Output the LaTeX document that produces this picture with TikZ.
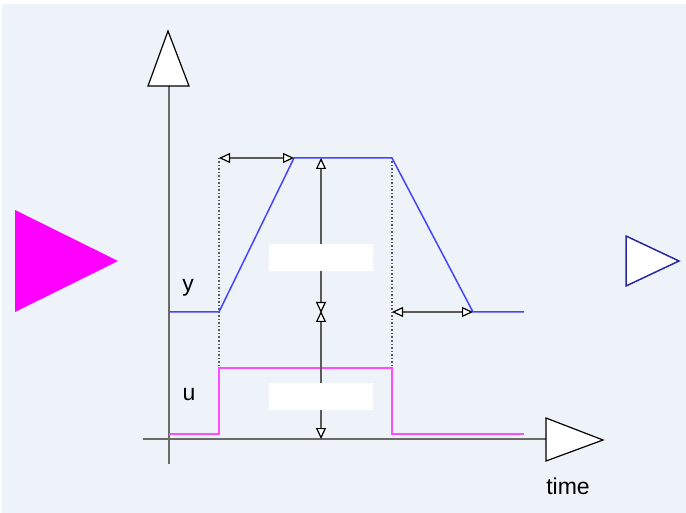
\documentclass[tikz,border=0pt]{standalone}
\usepackage{fontspec}
\setmainfont{Liberation Sans}
\usetikzlibrary{arrows.meta}

\begin{document}
\begin{tikzpicture}[x=1pt, y=-1pt, font=\fontsize{23}{26}\selectfont]
    \definecolor{backColour}{HTML}{EEF3FA}
    \definecolor{axisColour}{HTML}{6A6A6A}
    \definecolor{measColour}{HTML}{5A5A5A}
    \definecolor{yColour}{HTML}{4545FF}
    \definecolor{uColour}{HTML}{FF4CFF}
    \definecolor{inColour}{HTML}{FF00FF}
    \definecolor{outColour}{HTML}{2A2AA0}

    \tikzset{
        measure/.style={draw=measColour, line width=1.5pt,
            {Triangle[length=11pt, width=10pt, fill=white, color=black, line width=1.2pt]}-{Triangle[length=11pt, width=10pt, fill=white, color=black, line width=1.2pt]}},
        guide/.style={draw=measColour, line width=1.5pt, dash pattern=on 1.5pt off 2pt},
        blank/.style={fill=white, draw=none, minimum width=104pt, minimum height=27pt, inner sep=0pt},
        axishead/.style={fill=white, draw=black, line width=1.2pt, line join=miter}
    }

    % Background
    \useasboundingbox (0,0) rectangle (686,513);
    \fill[backColour] (2,4) rectangle (686,513);

    % Input and output ports
    \fill[inColour] (15,210) -- (118,261) -- (15,312) -- cycle;
    \draw[outColour, fill=white, line width=1.5pt] (626,236) -- (679,261) -- (626,286) -- cycle;

    % Axes
    \draw[axisColour, line width=2pt] (169,86) -- (169,464);
    \draw[axisColour, line width=2pt] (143,439) -- (546,439);
    \draw[axishead] (148,86) -- (168,31) -- (189,86) -- cycle;
    \draw[axishead] (546,418) -- (603,440) -- (546,461) -- cycle;
    \node (timelbl) at (568,486) {time};

    % Key points of the two signals
    \coordinate (y0) at (169,312);
    \coordinate (y1) at (219,312);
    \coordinate (y2) at (294,158);
    \coordinate (y3) at (392,158);
    \coordinate (y4) at (473,312);
    \coordinate (y5) at (524,312);
    \coordinate (u0) at (169,434);
    \coordinate (u1) at (219,434);
    \coordinate (u2) at (219,368);
    \coordinate (u3) at (392,368);
    \coordinate (u4) at (392,434);
    \coordinate (u5) at (524,434);

    % Dotted guides
    \draw[guide] (219,158) -- (u2);
    \draw[guide] (392,158) -- (u3);

    % Signals
    \draw[uColour, line width=1.5pt] (u0) -- (u1) -- (u2) -- (u3) -- (u4) -- (u5);
    \draw[yColour, line width=1.5pt] (y0) -- (y1) -- (y2) -- (y3) -- (y4) -- (y5);

    % Measures
    \coordinate (mtop) at (321,158);
    \coordinate (mmidA) at (321,313);
    \coordinate (mmidB) at (321,311);
    \coordinate (mbot) at (321,439);
    \draw[measure] (219,158) -- (y2);
    \draw[measure] (392,312) -- (y4);
    \draw[measure] (mtop) -- (mmidA);
    \draw[measure] (mmidB) -- (mbot);

    % Blank label boxes
    \node[blank] (ampy) at (321,258) {};
    \node[blank] (ampu) at (321,396) {};

    % Signal names
    \node (ylbl) at (188,288) {y};
    \node (ulbl) at (189,395) {u};

\end{tikzpicture}
\end{document}
